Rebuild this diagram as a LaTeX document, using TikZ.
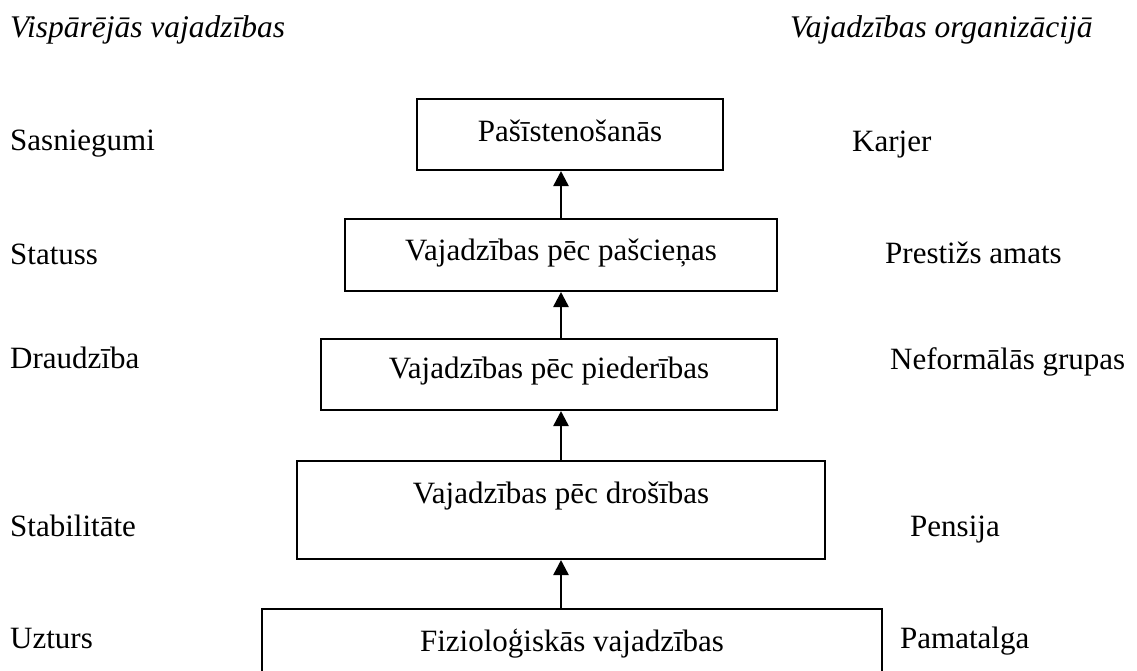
\documentclass[tikz,border=0pt]{standalone}
\usepackage{fontspec}
\setmainfont{Liberation Serif}
\usetikzlibrary{arrows.meta}

\begin{document}
\begin{tikzpicture}[x=1pt, y=-1pt,
  font=\fontsize{31}{37}\selectfont,
  box/.style={draw, line width=2pt, inner sep=0pt, anchor=base},
  lbl/.style={anchor=base west, inner sep=0pt},
  hdr/.style={anchor=base west, inner sep=0pt, font=\fontsize{31.5}{37}\selectfont\itshape},
  arr/.style={-{Triangle[length=15pt, width=15pt]}, line width=2.5pt}]
\useasboundingbox (0,0) rectangle (1137,670);
\node[hdr] (hl) at (10,37) {Vispārējās vajadzības};
\node[hdr] (hr) at (790,37) {Vajadzības organizācijā};
\node[box, minimum width=306pt, text height=42pt, text depth=29pt] (pas) at (570,141) {Pašīstenošanās};
\node[box, minimum width=432pt, text height=41pt, text depth=31pt] (cie) at (561,260) {Vajadzības pēc pašcieņas};
\node[box, minimum width=456pt, text height=39pt, text depth=32pt] (pie) at (549,378) {Vajadzības pēc piederības};
\node[box, minimum width=528pt, text height=42pt, text depth=56pt] (dro) at (561,503) {Vajadzības pēc drošības};
\node[box, minimum width=620pt, text height=42pt, text depth=30pt] (fiz) at (572,651) {Fizioloģiskās vajadzības};
\node[lbl] (l1) at (10,150) {Sasniegumi};
\node[lbl] (l2) at (10,264) {Statuss};
\node[lbl] (l3) at (10,368) {Draudzība};
\node[lbl] (l4) at (10,536) {Stabilitāte};
\node[lbl] (l5) at (10,648) {Uzturs};
\node[lbl] (r1) at (852,151) {Karjer};
\node[lbl] (r2) at (885,263) {Prestižs amats};
\node[lbl] (r3) at (890,369) {Neformālās grupas};
\node[lbl] (r4) at (910,536) {Pensija};
\node[lbl] (r5) at (900,648) {Pamatalga};
\draw[arr] (cie.north) -- (cie.north |- pas.south);
\draw[arr] (cie.south |- pie.north) -- (cie.south);
\draw[arr] (dro.north) -- (dro.north |- pie.south);
\draw[arr] (dro.south |- fiz.north) -- (dro.south);
\end{tikzpicture}
\end{document}
